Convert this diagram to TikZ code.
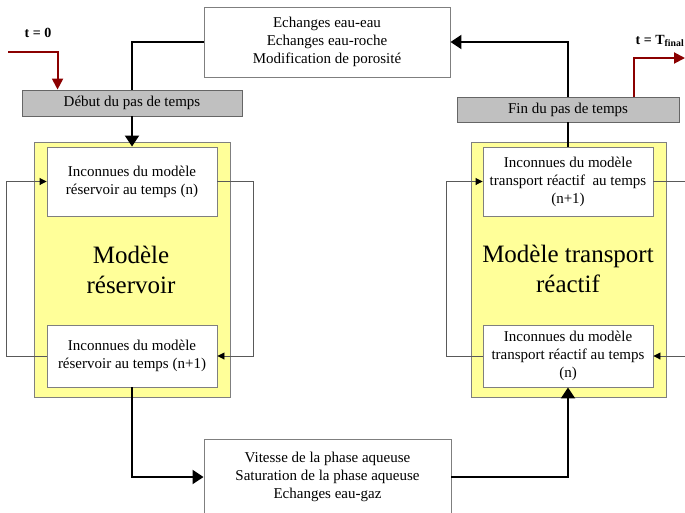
\documentclass[tikz,border=0pt]{standalone}
\usepackage{fontspec}
\setmainfont{Liberation Serif}
\usetikzlibrary{arrows.meta,calc,positioning}
\definecolor{CellYellow}{HTML}{FFFF99}
\definecolor{BarGray}{HTML}{C0C0C0}
\definecolor{EdgeGray}{HTML}{7F7F7F}
\definecolor{TimeRed}{HTML}{8B0000}

\begin{document}
\begin{tikzpicture}[x=1pt,y=-1pt,
  txt/.style={font=\fontsize{15}{18}\selectfont,align=center,inner sep=0pt},
  whitebox/.style={txt,draw=EdgeGray,fill=white,line width=0.9pt},
  graybar/.style={txt,draw=EdgeGray!80!black,fill=BarGray,line width=0.9pt},
  model/.style={draw=EdgeGray,fill=CellYellow,line width=0.9pt,
    minimum width=196pt,minimum height=255pt},
  bigtxt/.style={font=\fontsize{25}{30}\selectfont,align=center,inner sep=0pt},
  flow/.style={line width=2pt,-{Triangle[length=11pt,width=14pt]}},
  loopline/.style={EdgeGray!70!black,line width=0.9pt,-{Triangle[length=7pt,width=7pt,color=black]}},
  timeline/.style={TimeRed,line width=2pt,-{Triangle[length=11pt,width=11pt]}}]
  \useasboundingbox (0,0) rectangle (685,512);
  % exchange boxes
  \node[whitebox,minimum width=246pt,minimum height=70pt] (echanges) at (327,42)
    {Echanges eau-eau\\Echanges eau-roche\\Modification de porosité};
  \node[whitebox,minimum width=247pt,minimum height=76pt] (vitesse) at (327.5,477)
    {Vitesse de la phase aqueuse\\Saturation de la phase aqueuse\\Echanges eau-gaz};
  % time step bars
  \node[graybar,minimum width=220pt,minimum height=26pt] (debut) at (132,103) {Début du pas de temps};
  \node[graybar,minimum width=222pt,minimum height=25pt] (fin) at (568,109.5) {Fin du pas de temps};
  % reservoir model
  \node[model] (reservoir) at (132,269.5) {};
  \node[whitebox,minimum width=170pt,minimum height=69pt] (resN) at (132,181.5)
    {Inconnues du modèle\\réservoir au temps (n)};
  \node[whitebox,minimum width=170pt,minimum height=62pt] (resNp) at (132,356)
    {Inconnues du modèle\\réservoir au temps (n+1)};
  \node[bigtxt] at (131,270) {Modèle\\réservoir};
  % reactive transport model
  \node[model,minimum width=195pt] (transport) at (568.5,269.5) {};
  \node[whitebox,minimum width=170pt,minimum height=69pt] (trNp) at (568,181.5)
    {Inconnues du modèle\\transport réactif \ au temps\\(n+1)};
  \node[whitebox,minimum width=170pt,minimum height=62pt] (trN) at (568,356)
    {Inconnues du modèle\\transport réactif au temps\\(n)};
  \node[bigtxt] at (568,269) {Modèle transport\\réactif};
  % time labels
  \node[txt,font=\fontsize{14}{17}\selectfont\bfseries] (tzero) at (38,33) {t = 0};
  \node[txt,font=\fontsize{14}{17}\selectfont\bfseries] (tfinal) at (660,41) {t = T\textsubscript{final}};
  \coordinate (tzeroIn) at (8,52);
  \coordinate (tzeroOn) at ($(debut.north west)+(36,0)$);
  \coordinate (tfinalOn) at ($(fin.north east)+(-45,0)$);
  \coordinate (tfinalOut) at (685,58);
  % connectors
  \draw[line width=2pt] (echanges.west) -| (debut.north);
  \draw[flow] (debut.south) -- (resN.north);
  \draw[flow] (resNp.south) |- (vitesse.west);
  \draw[flow] (vitesse.east) -| (trN.south);
  \draw[line width=2pt] (trNp.north) -- (fin.south);
  \draw[flow] (fin.north) |- (echanges.east);
  \draw[timeline] (tzeroIn) -| (tzeroOn);
  \draw[timeline] (tfinalOn) |- (tfinalOut);
  % iteration loops
  \draw[loopline] (resN.east) -- ++(36,0) |- (resNp.east);
  \draw[loopline] (resNp.west) -- ++(-40,0) |- (resN.west);
  \draw[loopline] (trNp.east) -- ++(40,0) |- (trN.east);
  \draw[loopline] (trN.west) -- ++(-36,0) |- (trNp.west);
\end{tikzpicture}
\end{document}
